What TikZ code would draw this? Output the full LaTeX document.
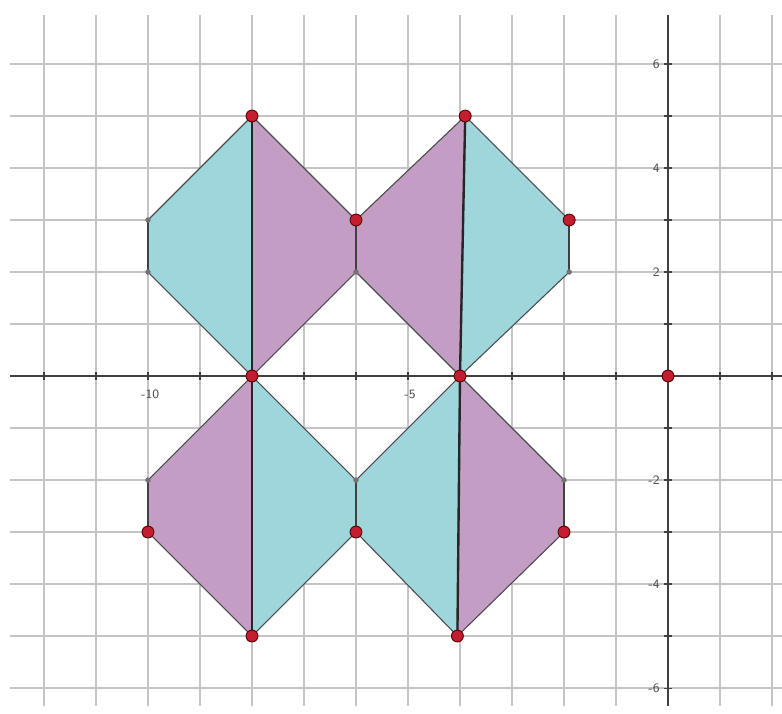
\documentclass[tikz,border=0pt]{standalone}
\usepackage{tikz}
\usepackage{xcolor}
\definecolor{polycyan}{RGB}{158, 214, 220}
\definecolor{polypurple}{RGB}{196, 157, 196}
\definecolor{ptred}{RGB}{196, 28, 48}
\definecolor{gridgray}{RGB}{196, 196, 196}

\begin{document}
\begin{tikzpicture}[
    font=\sffamily\fontsize{7}{8}\selectfont,
    gridline/.style={gridgray, line width=1.2pt},
    axisline/.style={black!75, line width=1pt},
    cyanpoly/.style={fill=polycyan, draw=black!70, line width=0.6pt},
    purplepoly/.style={fill=polypurple, draw=black!70, line width=0.6pt},
    midline/.style={black!85, line width=1.3pt},
    sideline/.style={black!75, line width=0.8pt},
    bigpt/.style={circle, fill=ptred, draw=red!35!black, line width=0.5pt,
                  inner sep=0pt, minimum size=6.5pt},
    smallpt/.style={circle, fill=black!55, inner sep=0pt, minimum size=3pt},
    ticklabel/.style={text=black!70, inner sep=1pt},
  ]
    \useasboundingbox (-12.846,-6.481) rectangle (2.192,7.231);

    % Grid
    \foreach \x in {-12,...,2}
      \draw[gridline] (\x,-6.35) -- (\x,6.95);
    \foreach \y in {-6,...,6}
      \draw[gridline] (-12.65,\y) -- (2.192,\y);

    % Axes with ticks
    \draw[axisline] (-12.65,0) -- (2.192,0);
    \draw[axisline] (0,-6.35) -- (0,6.95);
    \foreach \x in {-12,...,2}
      \draw[axisline, line width=0.6pt] (\x,-0.07) -- (\x,0.07);
    \foreach \y in {-6,...,6}
      \draw[axisline, line width=0.6pt] (-0.07,\y) -- (0.07,\y);

    % Tick labels
    \node[ticklabel] (xm10) at (-9.96,-0.36) {-10};
    \node[ticklabel] (xm5) at (-4.96,-0.36) {-5};
    \foreach \y in {6,4,2,-2,-4,-6}
      \node[ticklabel, anchor=east] (ylab\y) at (-0.12,\y) {\y};

    % Vertices
    \coordinate (A) at (-8,5);
    \coordinate (B) at (-10,3);
    \coordinate (C) at (-10,2);
    \coordinate (D) at (-8,0);
    \coordinate (E) at (-6,3);
    \coordinate (F) at (-6,2);
    \coordinate (G) at (-3.9,5);
    \coordinate (H) at (-1.9,3);
    \coordinate (I) at (-1.9,2);
    \coordinate (J) at (-4,0);
    \coordinate (O) at (0,0);
    \coordinate (K) at (-10,-2);
    \coordinate (L) at (-10,-3);
    \coordinate (M) at (-8,-5);
    \coordinate (N) at (-6,-2);
    \coordinate (P) at (-6,-3);
    \coordinate (Q) at (-4.05,-5);
    \coordinate (R) at (-2,-2);
    \coordinate (S) at (-2,-3);

    % Top pair
    \filldraw[cyanpoly] (A) -- (B) -- (C) -- (D) -- cycle;
    \filldraw[purplepoly] (A) -- (E) -- (F) -- (D) -- cycle;
    \filldraw[purplepoly] (G) -- (E) -- (F) -- (J) -- cycle;
    \filldraw[cyanpoly] (G) -- (H) -- (I) -- (J) -- cycle;

    % Bottom pair
    \filldraw[purplepoly] (D) -- (K) -- (L) -- (M) -- cycle;
    \filldraw[cyanpoly] (D) -- (N) -- (P) -- (M) -- cycle;
    \filldraw[cyanpoly] (J) -- (N) -- (P) -- (Q) -- cycle;
    \filldraw[purplepoly] (J) -- (R) -- (S) -- (Q) -- cycle;

    % Axes of symmetry and short sides
    \draw[midline] (A) -- (D);
    \draw[midline] (G) -- (J);
    \draw[midline] (D) -- (M);
    \draw[midline] (J) -- (Q);
    \draw[sideline] (B) -- (C);
    \draw[sideline] (E) -- (F);
    \draw[sideline] (H) -- (I);
    \draw[sideline] (K) -- (L);
    \draw[sideline] (N) -- (P);
    \draw[sideline] (R) -- (S);

    % Points
    \foreach \p in {B,C,F,I,K,N,R}
      \node[smallpt] (pt\p) at (\p) {};
    \foreach \p in {A,G,E,H,D,J,O,L,P,S,M,Q}
      \node[bigpt] (pt\p) at (\p) {};
  \end{tikzpicture}
\end{document}
